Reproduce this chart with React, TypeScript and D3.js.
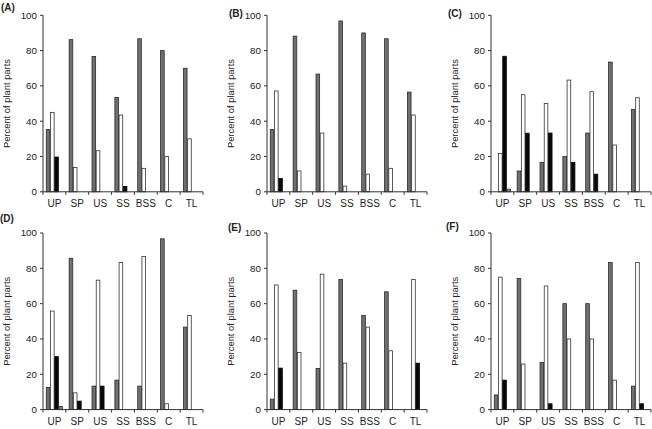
import React from "react";
import * as d3 from "d3";

const categories = ["UP", "SP", "US", "SS", "BSS", "C", "TL"];
const yTicks = [0, 20, 40, 60, 80, 100];
const panelLabels = ["(A)", "(B)", "(C)", "(D)", "(E)", "(F)"];
const yAxisTitle = "Percent of plant parts";

// series order per panel: gray, white, black, small gray
const aGray = [35.3, 86.2, 76.7, 53.5, 86.7, 80, 70];
const aWhite = [45, 13.8, 23.3, 43.5, 13.3, 20, 30];
const aBlack = [19.7, 0, 0, 3, 0, 0, 0];
const aOther = [0, 0, 0, 0, 0, 0, 0];

const bGray = [35.3, 88.2, 66.7, 96.8, 90, 86.7, 56.5];
const bWhite = [57.1, 11.8, 33.3, 3.2, 10, 13.3, 43.5];
const bBlack = [7.6, 0, 0, 0, 0, 0, 0];
const bOther = [0, 0, 0, 0, 0, 0, 0];

const cGray = [0, 11.8, 16.7, 20, 33.3, 73.5, 46.7];
const cWhite = [21.7, 55, 50, 63.3, 56.7, 26.5, 53.3];
const cBlack = [76.8, 33.2, 33.3, 16.7, 10, 0, 0];
const cOther = [1.5, 0, 0, 0, 0, 0, 0];

const dGray = [12.5, 85.7, 13.3, 16.7, 13.3, 96.7, 46.7];
const dWhite = [55.8, 9.5, 73.3, 83.3, 86.7, 3.3, 53.3];
const dBlack = [30, 4.8, 13.3, 0, 0, 0, 0];
const dOther = [1.7, 0, 0, 0, 0, 0, 0];

const eGray = [5.9, 67.6, 23.3, 73.7, 53.3, 66.7, 0];
const eWhite = [70.6, 32.4, 76.7, 26.3, 46.7, 33.3, 73.7];
const eBlack = [23.5, 0, 0, 0, 0, 0, 26.3];
const eOther = [0, 0, 0, 0, 0, 0, 0];

const fGray = [8.3, 74.2, 26.7, 60, 60, 83.3, 13.3];
const fWhite = [75, 25.8, 70, 40, 40, 16.7, 83.3];
const fBlack = [16.7, 0, 3.3, 0, 0, 0, 3.3];
const fOther = [0, 0, 0, 0, 0, 0, 0];

const panelSeries = [
  [aGray, aWhite, aBlack, aOther],
  [bGray, bWhite, bBlack, bOther],
  [cGray, cWhite, cBlack, cOther],
  [dGray, dWhite, dBlack, dOther],
  [eGray, eWhite, eBlack, eOther],
  [fGray, fWhite, fBlack, fOther],
];

const W = 652;
const H = 429;
const colX = [43, 267, 491];
const rowTop = [15.3, 233];
const rowBottom = [191.8, 409.6];
const plotW = 160;
const letterPos = [
  [1, 11],
  [229, 17],
  [448, 17],
  [0, 222],
  [228, 231],
  [446, 230],
];

const seriesStyle = [
  { fill: "#707070", stroke: "#2a2a2a" },
  { fill: "#ffffff", stroke: "#333333" },
  { fill: "#080808", stroke: "#080808" },
  { fill: "#858585", stroke: "#333333" },
];

const font = "Arial, 'Liberation Sans', Helvetica, sans-serif";
const axisColor = "#333";
const textColor = "#222";

function Panel({ idx }: { idx: number }) {
  const col = idx % 3;
  const row = Math.floor(idx / 3);
  const x0 = colX[col];
  const yTop = rowTop[row];
  const yBot = rowBottom[row];
  const x = d3.scaleBand<string>().domain(categories).range([x0, x0 + plotW]).paddingInner(0).paddingOuter(0);
  const sub = d3
    .scaleBand<number>()
    .domain([0, 1, 2, 3])
    .range([3, x.bandwidth() - 3])
    .paddingInner(0);
  const y = d3.scaleLinear().domain([0, 100]).range([yBot, yTop]);
  const series = panelSeries[idx];
  const bw = sub.bandwidth() - 0.6;

  return (
    <g>
      <text
        x={letterPos[idx][0]}
        y={letterPos[idx][1]}
        fontFamily={font}
        fontWeight="bold"
        fontSize={10}
        fill={textColor}
      >
        {panelLabels[idx]}
      </text>
      <text
        transform={`translate(${x0 - 33},${(yTop + yBot) / 2}) rotate(-90)`}
        textAnchor="middle"
        fontFamily={font}
        fontSize={9.4}
        fill={textColor}
      >
        {yAxisTitle}
      </text>
      {series.map((vals, si) =>
        categories.map((c, ci) => {
          const v = vals[ci];
          if (!v) return null;
          const bx = (x(c) as number) + (sub(si) as number) + 0.3;
          const by = y(v);
          return (
            <rect
              key={`${si}-${ci}`}
              x={bx}
              y={by}
              width={bw}
              height={yBot - by}
              fill={seriesStyle[si].fill}
              stroke={seriesStyle[si].stroke}
              strokeWidth={0.8}
            />
          );
        })
      )}
      {/* y axis */}
      <line x1={x0} x2={x0} y1={yTop} y2={yBot + 3} stroke={axisColor} strokeWidth={1} />
      {yTicks.map((t) => (
        <g key={t}>
          <line x1={x0 - 3} x2={x0} y1={y(t)} y2={y(t)} stroke={axisColor} strokeWidth={1} />
          <text
            x={x0 - 6}
            y={y(t)}
            dy="0.35em"
            textAnchor="end"
            fontFamily={font}
            fontSize={9.8}
            fill={textColor}
          >
            {t}
          </text>
        </g>
      ))}
      {/* x axis */}
      <line x1={x0} x2={x0 + plotW} y1={yBot} y2={yBot} stroke={axisColor} strokeWidth={1} />
      {categories.map((c) => (
        <g key={c}>
          <line
            x1={(x(c) as number) + x.bandwidth()}
            x2={(x(c) as number) + x.bandwidth()}
            y1={yBot}
            y2={yBot + 3}
            stroke={axisColor}
            strokeWidth={1}
          />
          <text
            x={(x(c) as number) + x.bandwidth() / 2}
            y={yBot + 15}
            textAnchor="middle"
            fontFamily={font}
            fontSize={10}
            fill={textColor}
          >
            {c}
          </text>
        </g>
      ))}
    </g>
  );
}

export default function App() {
  return (
    <svg
      width={W}
      height={H}
      viewBox={`0 0 ${W} ${H}`}
      style={{ position: "absolute", left: 0, top: 0, background: "#fff" }}
    >
      <rect x={0} y={0} width={W} height={H} fill="#fff" />
      {panelSeries.map((_, i) => (
        <Panel key={i} idx={i} />
      ))}
    </svg>
  );
}
